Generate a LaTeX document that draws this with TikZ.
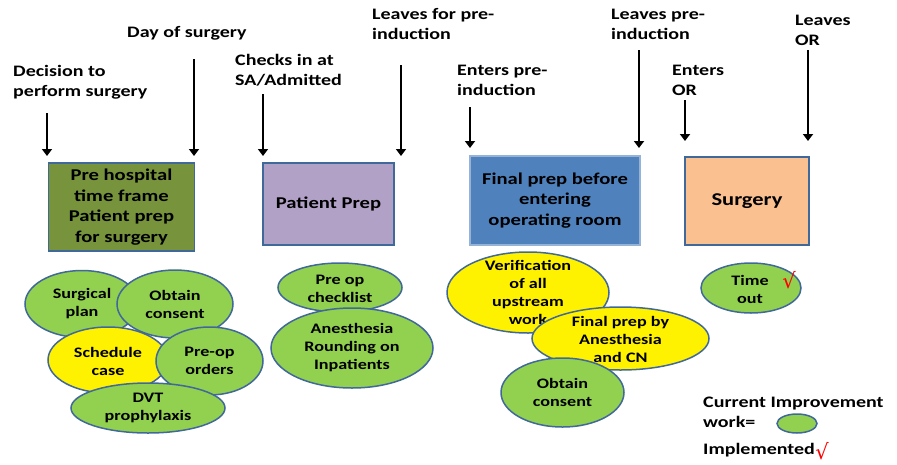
\documentclass[tikz,border=0pt]{standalone}
\usepackage{fontspec}
\setmainfont{Carlito}[FakeStretch=1.25]
\newfontfamily\symfont{DejaVu Sans}
\usetikzlibrary{arrows.meta,shapes.geometric}
\definecolor{olivebox}{HTML}{77933C}
\definecolor{lilacbox}{HTML}{B2A1C7}
\definecolor{bluebox}{HTML}{4F81BD}
\definecolor{peachbox}{HTML}{FAC090}
\definecolor{leafgreen}{HTML}{92D050}
\definecolor{edgeblue}{HTML}{41689A}
\definecolor{lightedge}{HTML}{95B3D7}

\begin{document}
\begin{tikzpicture}[x=1pt, y=-1pt,
    lbl/.style = {inner sep=0, align=left, anchor=west, font=\fontsize{16}{20}\selectfont\bfseries},
    stage/.style = {draw=edgeblue, line width=1.5pt, inner sep=0, align=center, font=\fontsize{16.5}{20.5}\selectfont\bfseries},
    task/.style = {ellipse, draw=edgeblue, line width=1.5pt, fill=leafgreen, inner sep=0},
    todo/.style = {task, fill=yellow},
    tasktext/.style = {inner sep=0, align=center, font=\fontsize{14.5}{18}\selectfont\bfseries},
    tick/.style = {inner sep=0, text=red, font=\symfont\fontsize{21}{21}\selectfont},
    down/.style = {line width=2.5pt, -{Triangle[width=10pt,length=7pt]}}]
    \useasboundingbox (0,0) rectangle (897,464);

    % time line labels
    \node[lbl] (dec) at (13,82) {Decision to\\perform surgery};
    \node[lbl] (day) at (127,33) {Day of surgery};
    \node[lbl] (chk) at (235,70) {Checks in at\\SA/Admitted};
    \node[lbl] (lfp) at (372,24) {Leaves for pre-\\induction};
    \node[lbl] (epi) at (457,80) {Enters pre-\\induction};
    \node[lbl] (lpi) at (611,24) {Leaves pre-\\induction};
    \node[lbl] (eor) at (672,80) {Enters\\OR};
    \node[lbl] (lor) at (795,30) {Leaves\\OR};

    % arrows
    \coordinate (a1) at (47,113);  \coordinate (b1) at (47,156);
    \coordinate (a2) at (194,59);  \coordinate (b2) at (194,156);
    \coordinate (a3) at (263,94);  \coordinate (b3) at (263,156);
    \coordinate (a4) at (401,65);  \coordinate (b4) at (401,156);
    \coordinate (a5) at (470,107); \coordinate (b5) at (470,148);
    \coordinate (a6) at (639,50);  \coordinate (b6) at (639,148);
    \coordinate (a7) at (685,100); \coordinate (b7) at (685,141);
    \coordinate (a8) at (808,50);  \coordinate (b8) at (808,141);
    \draw[down] (a1) -- (b1);
    \draw[down] (a2) -- (b2);
    \draw[down] (a3) -- (b3);
    \draw[down] (a4) -- (b4);
    \draw[down] (a5) -- (b5);
    \draw[down] (a6) -- (b6);
    \draw[down] (a7) -- (b7);
    \draw[down] (a8) -- (b8);

    % stages
    \node[stage, fill=olivebox, minimum width=146pt, minimum height=88pt] (pre) at (121.5,207) {Pre hospital\\time frame\\Patient prep\\for surgery};
    \node[stage, fill=lilacbox, minimum width=131pt, minimum height=82pt] (pat) at (328.5,204) {Patient Prep};
    \node[stage, draw=lightedge, fill=bluebox, minimum width=170pt, minimum height=89pt] (fin) at (555,200.5) {Final prep before\\entering\\operating room};
    \node[stage, fill=peachbox, minimum width=124pt, minimum height=88pt, font=\fontsize{18}{20}\selectfont\bfseries] (sur) at (747,201) {Surgery};

    % pre hospital work
    \node[task, minimum width=114pt, minimum height=67pt] (e1) at (82,304) {};
    \node[tasktext] (t1) at (82,304) {Surgical\\plan};
    \node[task, minimum width=116pt, minimum height=68pt] (e2) at (175,304) {};
    \node[tasktext] (t2) at (175,304) {Obtain\\consent};
    \node[todo, minimum width=120pt, minimum height=66pt] (e3) at (108,360) {};
    \node[tasktext] (t3) at (108,361) {Schedule\\case};
    \node[task, minimum width=107pt, minimum height=68pt] (e4) at (209.5,361) {};
    \node[tasktext] (t4) at (209.5,361) {Pre-op\\orders};
    \node[task, minimum width=154pt, minimum height=50pt] (e5) at (148,408) {};
    \node[tasktext] (t5) at (148,408) {DVT\\prophylaxis};

    % patient prep work
    \node[task, minimum width=124pt, minimum height=49pt] (e6) at (340,287.5) {};
    \node[tasktext] (t6) at (340,289) {Pre op\\checklist};
    \node[task, minimum width=162pt, minimum height=80pt] (e7) at (352,348) {};
    \node[tasktext] (t7) at (352,348) {Anesthesia\\Rounding on\\Inpatients};

    % final prep work
    \node[todo, minimum width=162pt, minimum height=81pt] (e8) at (528,292.5) {};
    \node[tasktext] (t8) at (528,292.5) {Verification\\of all\\upstream\\work};
    \node[todo, minimum width=177pt, minimum height=63pt] (e9) at (620.5,338.5) {};
    \node[tasktext] (t9) at (620.5,339) {Final prep by\\Anesthesia\\and CN};
    \node[task, minimum width=123pt, minimum height=69pt] (e10) at (562.5,392.5) {};
    \node[tasktext] (t10) at (562.5,392.5) {Obtain\\consent};

    % surgery work
    \node[task, minimum width=100pt, minimum height=50pt] (e11) at (751,288) {};
    \node[tasktext] (t11) at (750,289) {Time\\out};
    \node[tick] (k1) at (789,280) {√};

    % legend
    \node[lbl] (cur) at (703,412) {Current Improvement\\work=};
    \node[task, minimum width=40pt, minimum height=19pt] (e12) at (797,423.5) {};
    \node[lbl] (imp) at (703,450) {Implemented};
    \node[tick, anchor=west] (k2) at ([yshift=-1pt]imp.east) {√};
\end{tikzpicture}
\end{document}
